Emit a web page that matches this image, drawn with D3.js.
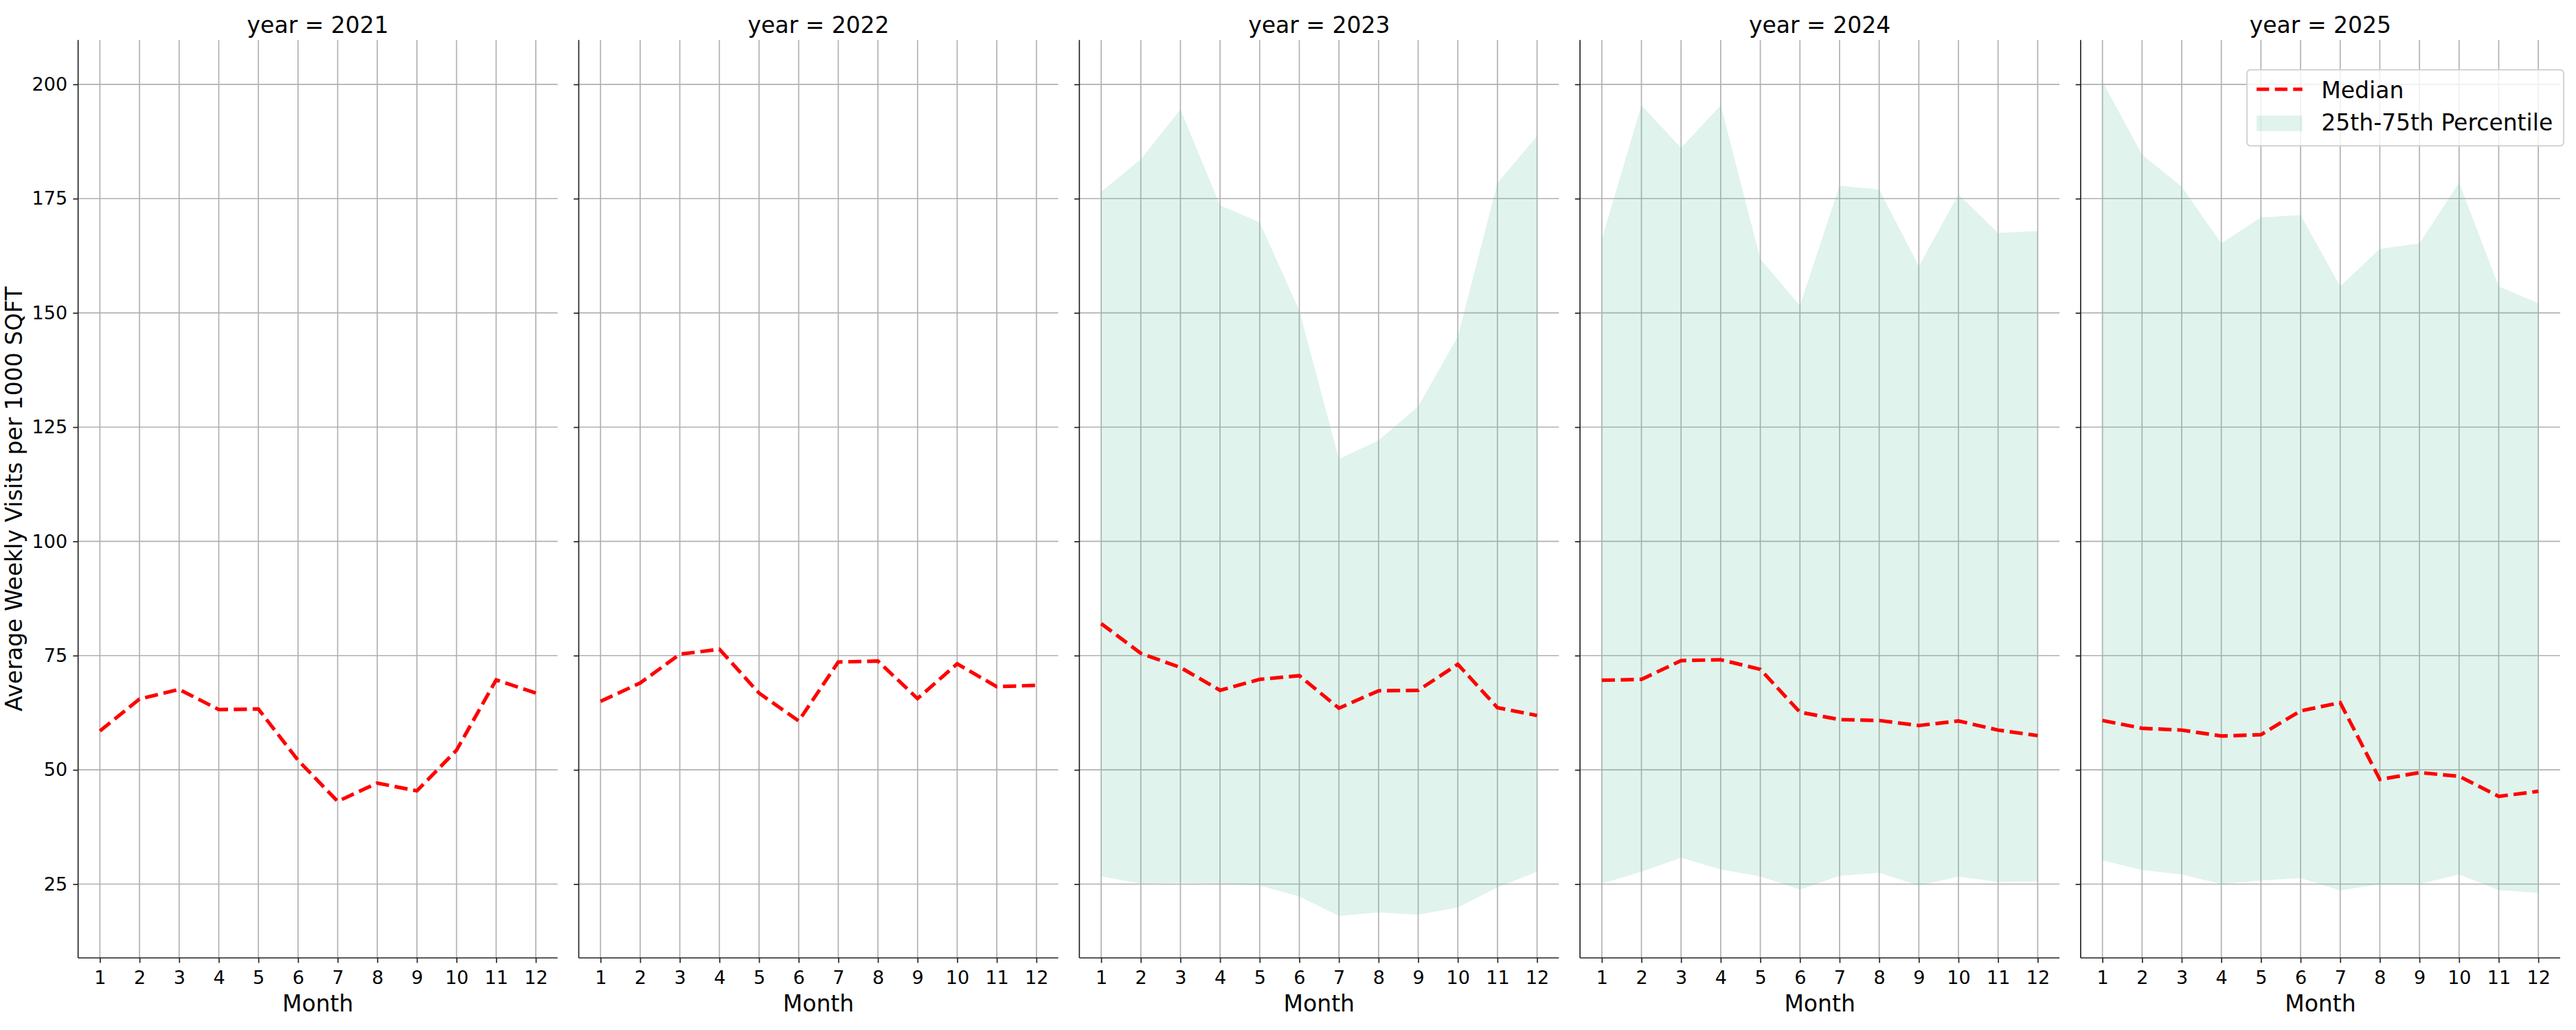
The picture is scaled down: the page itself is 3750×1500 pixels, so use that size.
<!DOCTYPE html>
<html>
<head>
<meta charset="utf-8">
<script src="https://cdn.jsdelivr.net/npm/d3@7"></script>
<style>
  html, body { margin: 0; padding: 0; background: #fff; }
  svg { display: block; font-family: "DejaVu Sans", sans-serif; }
</style>
</head>
<body>
<svg id="chart" width="3750" height="1500"></svg>
<script>
// ---------- data ----------
const years = [2021, 2022, 2023, 2024, 2025];
const months = [1, 2, 3, 4, 5, 6, 7, 8, 9, 10, 11, 12];
const yTicks = [25, 50, 75, 100, 125, 150, 175, 200];

const median2021 = [58.5, 65.5, 67.6, 63.2, 63.3, 52.1, 43.1, 47.1, 45.4, 54.3, 69.7, 66.8];
const median2022 = [65.0, 69.0, 75.3, 76.4, 66.8, 60.7, 73.6, 73.8, 65.6, 73.2, 68.2, 68.5];
const median2023 = [82.0, 75.5, 72.4, 67.4, 69.8, 70.6, 63.5, 67.3, 67.4, 73.1, 63.6, 61.9];
const median2024 = [69.6, 69.8, 73.9, 74.1, 72.0, 62.6, 61.0, 60.8, 59.7, 60.7, 58.7, 57.5];
const median2025 = [60.8, 59.1, 58.7, 57.4, 57.7, 62.9, 64.7, 47.9, 49.4, 48.6, 44.2, 45.3];

const p25_2023 = [26.7, 25.1, 25.3, 25.1, 24.7, 22.3, 18.0, 18.8, 18.3, 19.9, 24.3, 27.7];
const p75_2023 = [176.5, 183.6, 194.5, 173.5, 169.8, 150.5, 118.0, 122.1, 129.5, 144.8, 178.4, 188.7];
const p25_2024 = [25.1, 27.7, 30.8, 28.2, 26.7, 23.8, 26.8, 27.5, 24.7, 26.6, 25.5, 25.6];
const p75_2024 = [166.1, 195.4, 186.1, 195.4, 161.8, 151.6, 177.8, 177.0, 160.2, 175.9, 167.5, 167.9];
const p25_2025 = [30.2, 28.1, 27.1, 25.0, 25.8, 26.3, 23.6, 25.0, 25.0, 27.1, 23.7, 23.1];
const p75_2025 = [200.6, 184.6, 177.6, 165.2, 170.9, 171.4, 155.8, 164.0, 165.2, 178.5, 155.8, 152.1];

const medians = [median2021, median2022, median2023, median2024, median2025];
const p25s = [null, null, p25_2023, p25_2024, p25_2025];
const p75s = [null, null, p75_2023, p75_2024, p75_2025];

const titleText = yr => `year = ${yr}`;
const xLabelText = "Month";
const yLabelText = "Average Weekly Visits per 1000 SQFT";
const legendLabels = ["Median", "25th-75th Percentile"];

// ---------- layout ----------
const svg = d3.select("#chart");
const panelLeft0 = 113.7, panelStep = 728.8, panelW = 698;
const plotTop = 58.3, plotBottom = 1395;
const gridColor = "#b0b0b0", lw = 1.67;
const fillColor = "#66c2a5";
const tickFont = 27;

const yScale = d3.scaleLinear().domain([8.85, 209.7]).range([plotBottom, plotTop]);

years.forEach((yr, i) => {
  const left = panelLeft0 + i * panelStep;
  const x = d3.scaleLinear().domain([0.45, 12.55]).range([left, left + panelW]);
  const g = svg.append("g");

  // grid
  g.append("g").selectAll("line").data(months).join("line")
    .attr("x1", d => x(d)).attr("x2", d => x(d))
    .attr("y1", plotTop).attr("y2", plotBottom)
    .attr("stroke", gridColor).attr("stroke-width", lw);
  g.append("g").selectAll("line").data(yTicks).join("line")
    .attr("x1", left).attr("x2", left + panelW)
    .attr("y1", d => yScale(d)).attr("y2", d => yScale(d))
    .attr("stroke", gridColor).attr("stroke-width", lw);

  // band
  if (p25s[i]) {
    const area = d3.area()
      .x((d, j) => x(months[j]))
      .y0((d, j) => yScale(p25s[i][j]))
      .y1((d, j) => yScale(p75s[i][j]));
    g.append("path").datum(months).attr("d", area)
      .attr("fill", fillColor).attr("fill-opacity", 0.2);
  }

  // median line
  const line = d3.line().x((d, j) => x(months[j])).y(d => yScale(d));
  g.append("path").datum(medians[i]).attr("d", line)
    .attr("fill", "none").attr("stroke", "#ff0000").attr("stroke-width", 5.2)
    .attr("stroke-dasharray", "19.2,8.3");

  // axes
  const xAxis = d3.axisBottom(x).tickValues(months).tickSize(7.3).tickPadding(11.8).tickFormat(d3.format("d"));
  const gx = g.append("g").attr("transform", `translate(0,${plotBottom})`).call(xAxis);
  gx.select(".domain").attr("d", `M${left},0H${left + panelW}`).attr("stroke", "#222").attr("stroke-width", lw);
  gx.selectAll(".tick line").attr("stroke", "#222").attr("stroke-width", lw);
  gx.selectAll(".tick text").attr("font-size", tickFont).attr("fill", "#000")
    .attr("font-family", "DejaVu Sans").attr("dy", "0.71em");

  const yAxis = d3.axisLeft(yScale).tickValues(yTicks).tickSize(7.3).tickPadding(8.3)
    .tickFormat(i === 0 ? d3.format("d") : () => "");
  const gy = g.append("g").attr("transform", `translate(${left},0)`).call(yAxis);
  gy.select(".domain").attr("d", `M0,${plotTop}V${plotBottom}`).attr("stroke", "#222").attr("stroke-width", lw);
  gy.selectAll(".tick line").attr("stroke", "#222").attr("stroke-width", lw);
  gy.selectAll(".tick text").attr("font-size", tickFont).attr("fill", "#000")
    .attr("font-family", "DejaVu Sans");

  // title
  g.append("text").attr("x", left + panelW / 2).attr("y", 48.3)
    .attr("text-anchor", "middle").attr("font-size", 33).attr("fill", "#000")
    .text(titleText(yr));
  // x label
  g.append("text").attr("x", left + panelW / 2).attr("y", 1473.3)
    .attr("text-anchor", "middle").attr("font-size", 33).attr("fill", "#000")
    .text(xLabelText);

  // legend in last panel
  if (i === years.length - 1) {
    const lg = g.append("g");
    lg.append("rect").attr("x", 3271).attr("y", 101.7).attr("width", 461).attr("height", 110.6)
      .attr("rx", 5).attr("ry", 5)
      .attr("fill", "#fff").attr("fill-opacity", 0.8)
      .attr("stroke", "#cccccc").attr("stroke-width", lw);
    lg.append("line").attr("x1", 3285).attr("x2", 3351.7).attr("y1", 130).attr("y2", 130)
      .attr("stroke", "#ff0000").attr("stroke-width", 5.2).attr("stroke-dasharray", "18.3,8.3");
    lg.append("rect").attr("x", 3285).attr("y", 168.3).attr("width", 66.7).attr("height", 22.7)
      .attr("fill", fillColor).attr("fill-opacity", 0.2);
    lg.append("text").attr("x", 3379.3).attr("y", 142.7).attr("font-size", 33).attr("fill", "#000").text(legendLabels[0]);
    lg.append("text").attr("x", 3379.3).attr("y", 190).attr("font-size", 33).attr("fill", "#000").text(legendLabels[1]);
  }
});

// y label
svg.append("text")
  .attr("transform", `translate(32,${(plotTop + plotBottom) / 2}) rotate(-90)`)
  .attr("text-anchor", "middle").attr("font-size", 33).attr("fill", "#000")
  .text(yLabelText);
</script>
</body>
</html>
